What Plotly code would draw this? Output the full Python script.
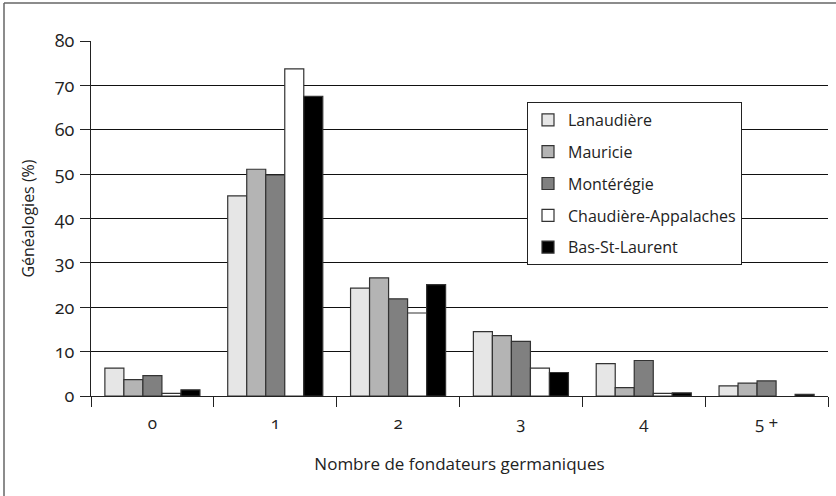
import plotly.graph_objects as go

categories = ["0", "1", "2", "3", "4", "5 +"]
series_names = ["Lanaudière", "Mauricie", "Montérégie", "Chaudière-Appalaches", "Bas-St-Laurent"]
lanaudiere = [6.3, 45.1, 24.3, 14.5, 7.3, 2.3]
mauricie = [3.7, 51.1, 26.6, 13.6, 1.9, 2.9]
monteregie = [4.6, 49.8, 21.9, 12.3, 8.0, 3.4]
chaudiere = [0.6, 73.7, 18.7, 6.3, 0.6, None]
bas_st_laurent = [1.4, 67.5, 25.1, 5.3, 0.7, 0.4]
y_ticks = [0, 10, 20, 30, 40, 50, 60, 70, 80]

series_values = [lanaudiere, mauricie, monteregie, chaudiere, bas_st_laurent]
colors = ["#e6e6e6", "#b4b4b4", "#808080", "#ffffff", "#000000"]

FONT = "Open Sans"

fig = go.Figure()
for i, (name, vals, col) in enumerate(zip(series_names, series_values, colors)):
    fig.add_trace(go.Bar(
        x=categories, y=vals, name=name,
        marker=dict(color=col, line=dict(color="#333333", width=1.2)),
        legendgroup=f"g{i}",
    ))

W, H = 836, 496
L, R, T, B = 91, 8, 41, 100
pw, ph = W - L - R, H - T - B

def px_x(x):
    return (x - L) / pw

def px_y(y):
    return (H - B - y) / ph

frame = dict(color="#666666", width=1.5)

fig.update_layout(
    width=W, height=H,
    margin=dict(l=L, r=R, t=T, b=B, autoexpand=False),
    paper_bgcolor="white", plot_bgcolor="white",
    font=dict(family=FONT, color="#222222", size=15),
    barmode="group", bargap=0.226, bargroupgap=0,
    showlegend=True,
    legend=dict(
        x=px_x(527), y=px_y(102), xanchor="left", yanchor="top",
        bgcolor="white", bordercolor="#222222", borderwidth=1,
        font=dict(size=16, family=FONT, color="#222222"),
        traceorder="grouped", tracegroupgap=8,
    ),
    xaxis=dict(
        type="category", tickson="boundaries", ticks="outside", ticklen=10,
        tickcolor="#222222", tickwidth=1.2, ticklabelstandoff=11,
        showline=True, linecolor="#222222", linewidth=1.2,
        showgrid=False, tickfont=dict(size=17),
        title=dict(text="Nombre de fondateurs germaniques", font=dict(size=17), standoff=25),
    ),
    yaxis=dict(
        range=[0, 80], tickvals=y_ticks, ticks="outside", ticklen=10,
        tickcolor="#222222", tickwidth=1.2, ticklabelstandoff=2,
        showline=True, linecolor="#222222", linewidth=1.2,
        showgrid=True, gridcolor="#111111", gridwidth=1.2,
        zeroline=False, tickfont=dict(size=18),
        title=dict(text="Généalogies (%)", font=dict(size=16), standoff=15),
    ),
    shapes=[
        dict(type="line", xref="paper", yref="paper",
             x0=px_x(4), x1=px_x(W + 5), y0=px_y(3), y1=px_y(3), line=frame, layer="below"),
        dict(type="line", xref="paper", yref="paper",
             x0=px_x(4), x1=px_x(4), y0=px_y(3), y1=px_y(H + 5), line=frame, layer="below"),
    ],
)

post = """
document.body.style.margin = '0';
var gd = document.getElementById('{plot_id}');
function onum() {
  document.querySelectorAll('.xtick text, .ytick text').forEach(function (t) {
    t.style.fontVariantNumeric = 'oldstyle-nums';
    t.style.fontFeatureSettings = '"onum" 1';
  });
}
onum();
setTimeout(onum, 50);
if (gd && gd.on) { gd.on('plotly_afterplot', onum); }
"""

fig.write_html("out.html", post_script=post, config={"displayModeBar": False})
